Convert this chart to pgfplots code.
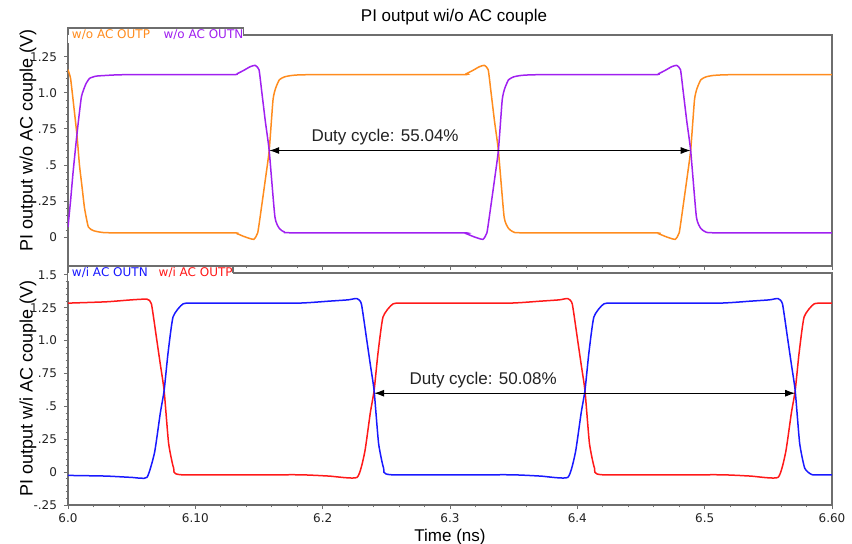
\documentclass[border=0pt]{standalone}
\usepackage{fontspec}
\setmainfont{Liberation Sans}
\newfontfamily\dejavu{DejaVu Sans}
\usepackage{pgfplots}
\pgfplotsset{compat=1.18}
\usetikzlibrary{arrows.meta}
\definecolor{cOrange}{RGB}{255,140,30}
\definecolor{cPurple}{RGB}{160,32,240}
\definecolor{cBlue}{RGB}{25,25,255}
\definecolor{cRed}{RGB}{255,25,25}
\definecolor{cFrame}{RGB}{110,110,110}
\definecolor{cText}{RGB}{35,35,35}
\newcommand\legfont{\dejavu\fontsize{6}{7}\selectfont}
\pgfplotsset{
  wave/.style={
    scale only axis, width=382pt,
    xmin=6.0, xmax=6.6,
    axis line style={cFrame, line width=0.7pt},
    tick style={cFrame, line width=0.4pt},
    tick align=outside, major tick length=2pt, minor tick length=1.2pt,
    xtick={6.0,6.1,6.2,6.3,6.4,6.5,6.6},
    minor x tick num=4, minor y tick num=4,
    xtick pos=bottom, ytick pos=left,
    tick label style={font=\legfont, text=cText},
    xticklabel style={yshift=1pt},
    /pgf/number format/assume math mode=true,
    every axis plot/.append style={line width=0.75pt, no markers, smooth, tension=0.3},
    label style={font=\fontsize{9}{10}\selectfont, text=black},
  }
}
\begin{document}
\begin{tikzpicture}
% ---------------- top axis ----------------
\begin{axis}[wave, name=top, at={(0pt,119.5pt)}, anchor=south west,
  height=115.5pt, ymin=-0.2, ymax=1.4,
  xticklabels={},
  ytick={0,0.25,0.5,0.75,1.0,1.25},
  yticklabels={0,.25,.5,.75,1.0,1.25},
  ylabel={PI output w/o AC couple (V)},
  ylabel style={at={(axis description cs:-0.0524,0.543)}, anchor=center},
]
\addplot[cOrange] table {
6.000 1.16
6.002 1.10
6.004 0.95
6.007 0.71
6.009 0.50
6.011 0.35
6.013 0.20
6.016 0.07
6.020 0.045
6.025 0.035
6.035 0.03
6.128 0.03
6.133 0.023
6.138 0.005
6.143 -0.01
6.146 -0.015
6.149 0.03
6.152 0.21
6.155 0.40
6.158 0.60
6.161 0.95
6.163 1.03
6.166 1.09
6.170 1.11
6.176 1.12
6.190 1.125
6.308 1.125
6.313 1.133
6.318 1.155
6.323 1.18
6.327 1.19
6.330 1.16
6.332 1.02
6.335 0.80
6.338 0.60
6.3425 0.14
6.346 0.06
6.350 0.035
6.358 0.03
6.459 0.03
6.464 0.023
6.469 0.005
6.474 -0.01
6.477 -0.015
6.480 0.03
6.483 0.21
6.486 0.40
6.489 0.60
6.492 0.95
6.494 1.03
6.497 1.09
6.501 1.11
6.507 1.12
6.521 1.125
6.600 1.125
};
\addplot[cPurple] table {
6.000 0.07
6.002 0.25
6.004 0.45
6.007 0.71
6.0105 0.97
6.014 1.06
6.017 1.10
6.022 1.115
6.030 1.12
6.045 1.125
6.128 1.125
6.133 1.133
6.138 1.155
6.143 1.18
6.147 1.19
6.150 1.16
6.152 1.02
6.155 0.80
6.158 0.60
6.1625 0.14
6.166 0.06
6.170 0.035
6.178 0.03
6.308 0.03
6.313 0.023
6.318 0.005
6.323 -0.01
6.326 -0.015
6.329 0.03
6.332 0.21
6.335 0.40
6.338 0.60
6.341 0.95
6.343 1.03
6.346 1.09
6.350 1.11
6.356 1.12
6.370 1.125
6.459 1.125
6.464 1.133
6.469 1.155
6.474 1.18
6.478 1.19
6.481 1.16
6.483 1.02
6.486 0.80
6.489 0.60
6.4935 0.14
6.497 0.06
6.501 0.035
6.509 0.03
6.600 0.03
};
\draw[black, line width=0.5pt, {Latex[length=5pt,width=3.5pt]}-{Latex[length=5pt,width=3.5pt]}]
  (axis cs:6.158,0.6) -- (axis cs:6.489,0.6);
\node[font=\fontsize{8.5}{10}\selectfont, text=cText] at (axis cs:6.249,0.69) {Duty cycle: 55.04\%};
\end{axis}
\node[anchor=north west, fill=white, inner xsep=0pt, inner ysep=0.6pt, text height=4.6pt, text depth=1.3pt, font=\legfont] (tabT) at ([yshift=3.5pt]top.north west)
  {\hspace{1.8pt}\textcolor{cOrange}{w/o AC OUTP}\hspace{6.8pt}\textcolor{cPurple}{w/o AC OUTN}\hspace{4pt}};
\draw[cFrame, line width=0.7pt] (top.north west) -- (tabT.north west) -- (tabT.north east) -- (tabT.north east |- top.north west);
% ---------------- bottom axis ----------------
\begin{axis}[wave, name=bot, at={(0pt,0pt)}, anchor=south west,
  height=116pt, ymin=-0.25, ymax=1.514,
  xticklabels={6.0,6.10,6.2,6.3,6.4,6.5,6.60},
  ytick={-0.25,0,0.25,0.5,0.75,1.0,1.25,1.5},
  yticklabels={-.25,0,.25,.5,.75,1.0,1.25,1.5},
  ylabel={PI output w/i AC couple (V)},
  ylabel style={at={(axis description cs:-0.0524,0.504)}, anchor=center},
  xlabel={Time (ns)},
  xlabel style={at={(axis description cs:0.5,-0.138)}, anchor=center, font=\fontsize{8.5}{10}\selectfont},
]
\addplot[cRed] table {
6.000 1.285
6.030 1.295
6.050 1.31
6.062 1.315
6.0655 1.28
6.0695 1.02
6.0725 0.82
6.0755 0.62
6.079 0.22
6.083 0.03
6.089 -0.02
6.180 -0.02
6.205 -0.03
6.227 -0.04
6.233 0.15
6.2374 0.45
6.2404 0.62
6.2434 0.90
6.2474 1.18
6.2554 1.28
6.2704 1.285
6.346 1.285
6.371 1.30
6.386 1.31
6.3925 1.32
6.396 1.28
6.400 1.02
6.403 0.82
6.406 0.62
6.4095 0.22
6.4135 0.03
6.4195 -0.02
6.511 -0.02
6.536 -0.03
6.5576 -0.04
6.5636 0.15
6.5681 0.45
6.5711 0.62
6.5741 0.90
6.5781 1.18
6.5861 1.28
6.600 1.285
};
\addplot[cBlue] table {
6.000 -0.025
6.030 -0.03
6.050 -0.04
6.062 -0.04
6.068 0.15
6.0725 0.45
6.0755 0.62
6.0785 0.90
6.0825 1.18
6.0905 1.28
6.1055 1.285
6.180 1.285
6.205 1.30
6.220 1.31
6.2269 1.32
6.2304 1.28
6.2344 1.02
6.2374 0.82
6.2404 0.62
6.2439 0.22
6.2479 0.03
6.2539 -0.02
6.346 -0.02
6.371 -0.03
6.3925 -0.04
6.3985 0.15
6.403 0.45
6.406 0.62
6.409 0.90
6.413 1.18
6.421 1.28
6.436 1.285
6.511 1.285
6.536 1.30
6.551 1.31
6.5576 1.32
6.5611 1.28
6.5651 1.02
6.5681 0.82
6.5711 0.62
6.5746 0.22
6.5786 0.03
6.5846 -0.02
6.600 -0.02
};
\draw[black, line width=0.5pt, {Latex[length=5pt,width=3.5pt]}-{Latex[length=5pt,width=3.5pt]}]
  (axis cs:6.2404,0.60) -- (axis cs:6.5711,0.60);
\node[font=\fontsize{8.5}{10}\selectfont, text=cText] at (axis cs:6.326,0.70) {Duty cycle: 50.08\%};
\end{axis}
\node[anchor=north west, fill=white, inner xsep=0pt, inner ysep=0.6pt, text height=4.6pt, text depth=1.3pt, font=\legfont] (tabB) at ([yshift=3.5pt]bot.north west)
  {\hspace{1.8pt}\textcolor{cBlue}{w/i AC OUTN}\hspace{5.5pt}\textcolor{cRed}{w/i AC OUTP}\hspace{4.5pt}};
\draw[cFrame, line width=0.7pt] (bot.north west) -- (tabB.north west) -- (tabB.north east) -- (tabB.north east |- bot.north west);
% title
\node[font=\fontsize{8.5}{10}\selectfont, text=black] at (193pt,244pt) {PI output wi/o AC couple};
\pgfresetboundingbox
\useasboundingbox (-34pt,-19pt) rectangle (392pt,252.5pt);
\end{tikzpicture}
\end{document}
